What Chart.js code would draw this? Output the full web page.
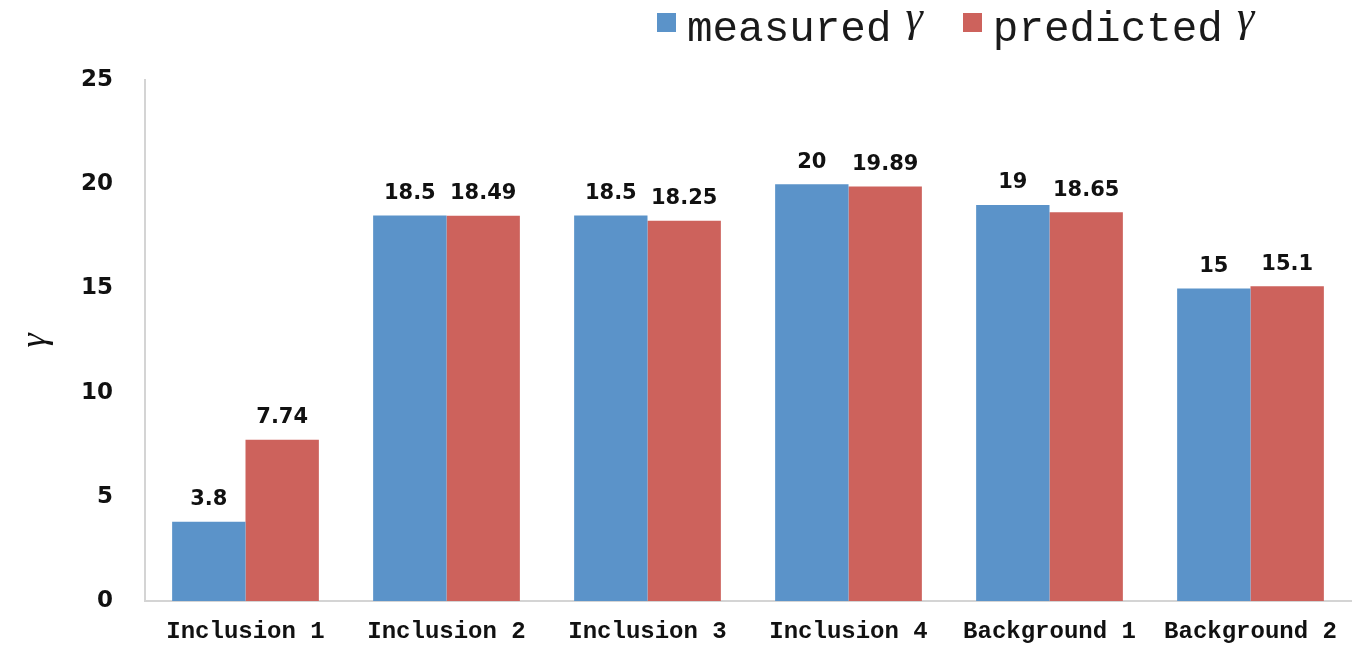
<!DOCTYPE html>
<html>
<head>
<meta charset="utf-8">
<script src="https://cdn.jsdelivr.net/npm/chart.js@4"></script>
<style>
  html, body { margin: 0; padding: 0; background: #fff; }
  #wrap { position: relative; width: 1358px; height: 648px; }
  #legend { position: absolute; left: 657px; top: 13px; display: flex; font-family: 'Liberation Mono', monospace; font-size: 42.6px; color: #1a1a1a; }
  .item { display: flex; align-items: flex-start; margin-right: 40px; }
  .box { display: inline-block; width: 19px; height: 19px; margin-right: 11px; }
  .txt { line-height: 1; position: relative; top: -4px; }
  .g { font-family: 'Liberation Serif', serif; font-style: italic; font-size: 44px; line-height: 0; margin-left: 14px; position: relative; top: -10px; }
</style>
</head>
<body>
<div id="wrap">
  <canvas id="myChart" width="1358" height="648"></canvas>
  <div id="legend"></div>
</div>
<script>
const categories = ['Inclusion 1', 'Inclusion 2', 'Inclusion 3', 'Inclusion 4', 'Background 1', 'Background 2'];
const measured = [3.8, 18.5, 18.5, 20, 19, 15];
const predicted = [7.74, 18.49, 18.25, 19.89, 18.65, 15.1];
const seriesNames = ['measured', 'predicted'];
const colors = ['#5b93c9', '#cd625c'];
const yTicks = [0, 5, 10, 15, 20, 25];

// value labels above the bars
const barLabels = {
    id: 'barLabels',
    afterDatasetsDraw(chart) {
        const ctx = chart.ctx;
        ctx.save();
        ctx.font = 'bold 21px "DejaVu Sans", sans-serif';
        ctx.fillStyle = '#111';
        ctx.textAlign = 'center';
        ctx.textBaseline = 'middle';
        chart.data.datasets.forEach((ds, i) => {
            chart.getDatasetMeta(i).data.forEach((bar, j) => {
                ctx.fillText(String(ds.data[j]), bar.x, bar.y - 22);
            });
        });
        ctx.restore();
    }
};

const ctx = document.getElementById('myChart').getContext('2d');
const myChart = new Chart(ctx, {
    type: 'bar',
    data: {
        labels: categories,
        datasets: [
            { label: seriesNames[0] + ' γ', data: measured, backgroundColor: colors[0] },
            { label: seriesNames[1] + ' γ', data: predicted, backgroundColor: colors[1] },
        ],
    },
    options: {
        responsive: false,
        animation: false,
        layout: { padding: { top: 80, left: 18, right: 7, bottom: 0 } },
        plugins: {
            legend: { display: false },
            tooltip: { enabled: false },
        },
        categoryPercentage: 0.73,
        barPercentage: 1.0,
        scales: {
            x: {
                grid: { display: false, drawTicks: false },
                border: { display: true, color: '#d4d4d4', width: 2 },
                ticks: {
                    padding: 17,
                    color: '#111',
                    font: { family: 'Liberation Mono', size: 24, weight: 'bold' },
                },
                afterFit(scale) { scale.height = 47; },
            },
            y: {
                min: 0,
                max: 25,
                grid: { display: false, drawTicks: false },
                border: { display: true, color: '#d4d4d4', width: 2 },
                afterBuildTicks(scale) { scale.ticks = yTicks.map(v => ({ value: v })); },
                ticks: {
                    padding: 32,
                    color: '#111',
                    font: { family: 'DejaVu Sans', size: 23, weight: 'bold' },
                },
                title: {
                    display: true,
                    text: 'γ',
                    color: '#111',
                    padding: 0,
                    font: { family: 'Liberation Serif', size: 36, style: 'italic', lineHeight: 1 },
                },
                afterFit(scale) { scale.width = 127; },
            },
        },
    },
    plugins: [barLabels],
});

// legend as html, mixing mono text with an italic gamma
const legend = document.getElementById('legend');
seriesNames.forEach((name, i) => {
    const item = document.createElement('div');
    item.className = 'item';
    item.innerHTML = '<span class="box" style="background:' + colors[i] + '"></span>' +
        '<span class="txt">' + name + '<span class="g">γ</span></span>';
    legend.appendChild(item);
});
</script>
</body>
</html>
